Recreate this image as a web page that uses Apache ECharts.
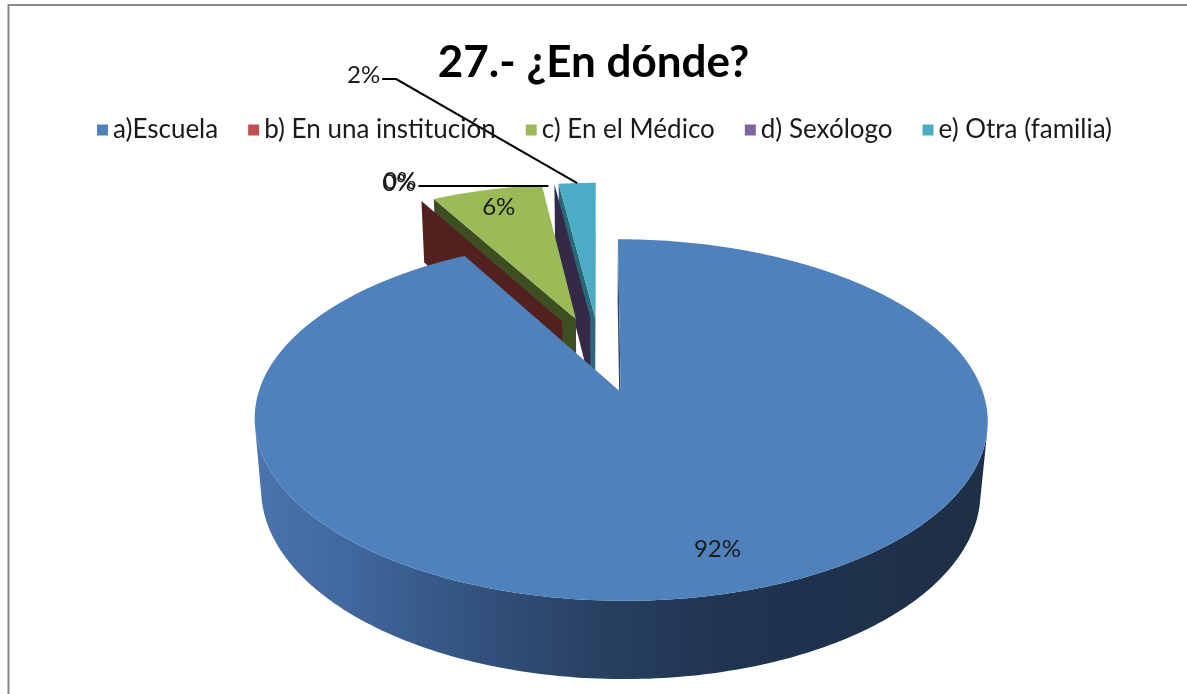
<!DOCTYPE html>
<html><head><meta charset="utf-8">
<script src="https://cdn.jsdelivr.net/npm/echarts@6/dist/echarts.min.js"></script>
<style>html,body{margin:0;padding:0;background:#fff}#c{width:1187px;height:694px}</style>
</head><body><div id="c"></div>
<script>
// ---- data ----
const categories = ['a)Escuela', 'b) En una institución', 'c) En el Médico', 'd) Sexólogo', 'e) Otra (familia)'];
const values = [92, 0, 6, 0, 2];
const labelTexts = ['92%', '0%', '6%', '0%', '2%'];
const colors = ['#4F81BD', '#C0504D', '#9BBB59', '#8064A2', '#4BACC6'];
const wallColors = ['#2c4a70', '#52201f', '#3f4d22', '#342a48', '#2a6878'];
const titleText = '27.- ¿En dónde?';

// ---- 3D projection (perspective view of a tilted pie) ----
const G = { cx: 600, cy: 354, S: 350, phi: 28.1 * Math.PI / 180, k: 0.17, H: 0.226, expl: 0.23 };
const cosP = Math.cos(G.phi), sinP = Math.sin(G.phi);
const D = 1 / G.k;
const cam = [0, D * sinP, -D * cosP];
function proj(X, Y, Z) {
  const zv = Z * cosP - Y * sinP, yv = Y * cosP + Z * sinP, w = 1 + G.k * zv;
  return [G.cx + G.S * X / w, G.cy - G.S * yv / w];
}
const total = values.reduce((a, b) => a + b, 0);
const starts = []; let acc = 0; values.forEach(v => { starts.push(acc); acc += v; });
function sliceGeom(i) {
  const a0 = starts[i] / total * 2 * Math.PI, a1 = (starts[i] + values[i]) / total * 2 * Math.PI;
  const mid = (a0 + a1) / 2;
  return { a0, a1, mid, ox: G.expl * Math.sin(mid), oz: G.expl * Math.cos(mid) };
}
function pt(g, th, r, Y) { return proj(g.ox + r * Math.sin(th), Y, g.oz + r * Math.cos(th)); }
function visible(p, n) { return (cam[0] - p[0]) * n[0] + (cam[1] - p[1]) * n[1] + (cam[2] - p[2]) * n[2] > 0; }

function sideFill(i) {
  if (i === 0) return { type: 'linear', x: 0, y: 0, x2: 1, y2: 0, colorStops: [
    { offset: 0, color: '#4a74ab' }, { offset: 0.12, color: '#4169a0' }, { offset: 0.3, color: '#33527e' },
    { offset: 0.48, color: '#283f60' }, { offset: 0.65, color: '#203450' }, { offset: 1, color: '#1e2f47' }] };
  return wallColors[i];
}

const LABEL_FONT = '24px Lato';
function renderItem(params, api) {
  const i = params.seriesIndex;
  const g = sliceGeom(i);
  const base = Math.round(-Math.cos(g.mid) * 1000) * 10;
  const children = [];
  const botY = -G.H;
  // radial walls
  const walls = [[g.a0, [-Math.cos(g.a0), 0, Math.sin(g.a0)]], [g.a1, [Math.cos(g.a1), 0, -Math.sin(g.a1)]]];
  let wallDrawn = false;
  walls.forEach(([th, n]) => {
    if (wallDrawn && g.a1 === g.a0) return;
    const pc = [g.ox + 0.5 * Math.sin(th), -G.H / 2, g.oz + 0.5 * Math.cos(th)];
    if (!visible(pc, n)) return;
    wallDrawn = true;
    children.push({ type: 'polygon', silent: true, z2: base,
      shape: { points: [pt(g, th, 0, 0), pt(g, th, 1, 0), pt(g, th, 1, botY), pt(g, th, 0, botY)] },
      style: { fill: wallColors[i] } });
  });
  if (g.a1 > g.a0) {
    const steps = Math.max(2, Math.ceil((g.a1 - g.a0) / (Math.PI / 180)));
    // outer curved side (visible runs only)
    let run = [];
    const flush = () => {
      if (run.length > 1) {
        const top = run.map(th => pt(g, th, 1, 0));
        const bot = run.slice().reverse().map(th => pt(g, th, 1, botY));
        children.push({ type: 'polygon', silent: true, z2: base + 1, shape: { points: top.concat(bot) }, style: { fill: sideFill(i) } });
      }
      run = [];
    };
    for (let j = 0; j < steps; j++) {
      const t0 = g.a0 + (g.a1 - g.a0) * j / steps, t1 = g.a0 + (g.a1 - g.a0) * (j + 1) / steps, tm = (t0 + t1) / 2;
      const p = [g.ox + Math.sin(tm), -G.H / 2, g.oz + Math.cos(tm)];
      if (visible(p, [Math.sin(tm), 0, Math.cos(tm)])) { if (!run.length) run.push(t0); run.push(t1); } else flush();
    }
    flush();
    // top face
    const pts = [pt(g, 0, 0, 0)];
    for (let j = 0; j <= steps; j++) pts.push(pt(g, g.a0 + (g.a1 - g.a0) * j / steps, 1, 0));
    children.push({ type: 'polygon', silent: true, z2: base + 2, shape: { points: pts }, style: { fill: colors[i] } });
  }
  // data labels
  const LZ = 1000000;
  const txt = (x, y, align) => ({ type: 'text', silent: true, z2: LZ, x, y,
    style: { text: labelTexts[i], font: LABEL_FONT, fill: '#1a1a1a', align, verticalAlign: 'middle' } });
  if (i === 0 || i === 2) {
    const r = i === 0 ? 0.8 : 0.85;
    const p = pt(g, g.mid, r, 0);
    children.push(txt(p[0] + (i === 0 ? 12 : 0), p[1] + (i === 0 ? 2 : 0), 'center'));
  } else if (i === 4) {
    const a = pt(g, g.mid, 1, 0);
    const e = [a[0] - 181, a[1] - 104];
    children.push({ type: 'polyline', silent: true, z2: LZ, shape: { points: [a, e, [e[0] - 14, e[1]]] }, style: { stroke: '#000', lineWidth: 2, fill: null } });
    children.push(txt(e[0] - 16, e[1] - 4, 'right'));
  } else if (i === 3) {
    const a = pt(g, g.mid, 1, 0);
    const e = [a[0] - 136, a[1] + 2];
    children.push({ type: 'polyline', silent: true, z2: LZ, shape: { points: [[a[0] - 6, a[1] + 2], e] }, style: { stroke: '#000', lineWidth: 2, fill: null } });
    children.push(txt(e[0] - 2, e[1] - 5, 'right'));
  } else if (i === 1) {
    const a = pt(g, g.mid, 1, 0);
    children.push(txt(a[0] - 6, a[1] - 18, 'right'));
  }
  return { type: 'group', children };
}

const chart = echarts.init(document.getElementById('c'), null, { renderer: 'canvas' });
chart.setOption({
  animation: false,
  backgroundColor: '#fff',
  title: { text: titleText, left: 'center', top: 36,
    textStyle: { fontFamily: 'Lato', fontWeight: 'bold', fontSize: 44, color: '#000' } },
  legend: { data: categories, top: 112, left: 92, icon: 'rect', itemWidth: 11, itemHeight: 11, itemGap: 30, itemTextGap: 5,
    textStyle: { fontFamily: 'Lato', fontSize: 26, color: '#1a1a1a' } },
  graphic: [{ type: 'rect', silent: true, shape: { x: 8.5, y: 5, width: 1400, height: 900 }, style: { fill: null, stroke: '#888', lineWidth: 2 } }],
  series: categories.map((name, i) => ({
    type: 'custom', name, coordinateSystem: 'none', renderItem,
    itemStyle: { color: colors[i] }, data: [values[i]]
  }))
});
</script></body></html>
